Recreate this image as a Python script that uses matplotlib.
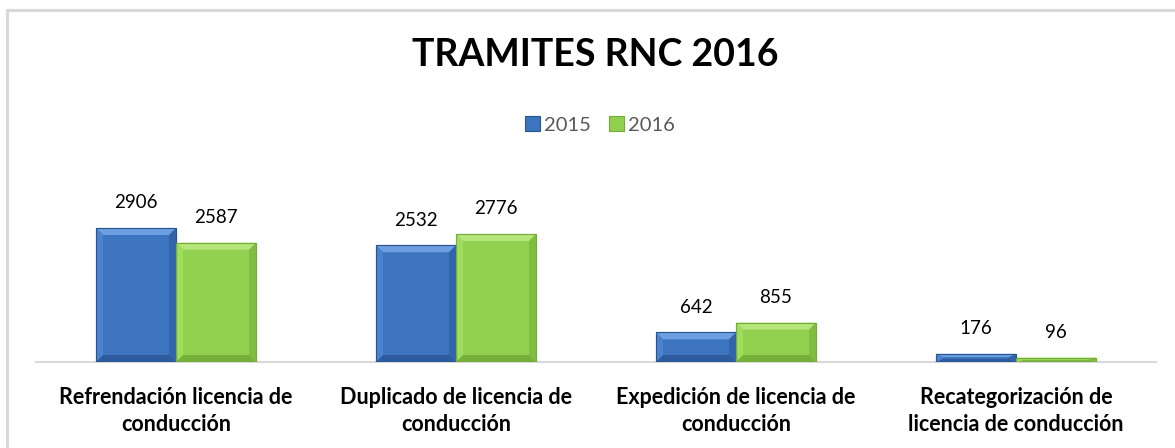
import matplotlib
matplotlib.use("Agg")
import matplotlib.pyplot as plt
import numpy as np
from matplotlib.patches import Rectangle, Polygon

categories = ["Refrendación licencia de\nconducción", "Duplicado de licencia de\nconducción",
              "Expedición de licencia de\nconducción", "Recategorización de\nlicencia de conducción"]
series_names = ["2015", "2016"]
values_2015 = [2906, 2532, 642, 176]
values_2016 = [2587, 2776, 855, 96]

plt.rcParams['font.family'] = ['Lato', 'DejaVu Sans']

W, H = 1175, 448
fig = plt.figure(figsize=(W / 100, H / 100), dpi=100)

# border frame
fig.patches.append(Rectangle((7 / W, -0.1), 1.2, (H - 10) / H + 0.1, transform=fig.transFigure,
                             fill=False, edgecolor="#d9d9d9", linewidth=2.2))

ax_left, ax_right = 36 / W, 1156 / W
base = 86 / H
ymax = 3200
px_per_unit = (362 - 228) / 2906
ax_h = ymax * px_per_unit / H
ax = fig.add_axes([ax_left, base, ax_right - ax_left, ax_h])

x = np.arange(len(categories))
bw = 80 / 280
styles = [
    dict(face="#3d74c0", edge="#2a5490", top="#6b9fe0", side="#4a82cf", bottom="#2c5a9c"),
    dict(face="#92d050", edge="#72ad35", top="#b6e57c", side="#a0dc5e", bottom="#76b03a"),
]

b1 = ax.bar(x - bw / 2, values_2015, bw, color=styles[0]["face"], edgecolor=styles[0]["edge"],
            linewidth=0.8, label=series_names[0], zorder=3)
b2 = ax.bar(x + bw / 2, values_2016, bw, color=styles[1]["face"], edgecolor=styles[1]["edge"],
            linewidth=0.8, label=series_names[1], zorder=3)

# bevel effect
bx = 7 / 280
by_full = 7 / px_per_unit
for bars, st in ((b1, styles[0]), (b2, styles[1])):
    for r in bars:
        x0, w, h = r.get_x(), r.get_width(), r.get_height()
        by = min(by_full, h * 0.4)
        x1 = x0 + w
        ax.add_patch(Polygon([(x0, h), (x1, h), (x1 - bx, h - by), (x0 + bx, h - by)],
                             closed=True, facecolor=st["top"], edgecolor="none", zorder=4))
        ax.add_patch(Polygon([(x0, 0), (x1, 0), (x1 - bx, by), (x0 + bx, by)],
                             closed=True, facecolor=st["bottom"], edgecolor="none", zorder=4))
        ax.add_patch(Polygon([(x0, 0), (x0 + bx, by), (x0 + bx, h - by), (x0, h)],
                             closed=True, facecolor=st["side"], edgecolor="none", zorder=4))
        ax.add_patch(Polygon([(x1, 0), (x1 - bx, by), (x1 - bx, h - by), (x1, h)],
                             closed=True, facecolor=st["bottom"], edgecolor="none", alpha=0.6, zorder=4))
        ax.add_patch(Rectangle((x0, 0), w, h, facecolor="none", edgecolor=st["edge"],
                               linewidth=0.8, zorder=5))

for bars in (b1, b2):
    for r in bars:
        ax.annotate(f"{int(r.get_height())}", (r.get_x() + r.get_width() / 2, r.get_height()),
                    xytext=(0, 12), textcoords="offset points", ha="center", va="bottom",
                    fontsize=13.5, color="#000000")

ax.set_xlim(-0.5, len(categories) - 0.5)
ax.set_ylim(0, ymax)
for s in ("top", "right", "left"):
    ax.spines[s].set_visible(False)
ax.spines["bottom"].set_color("#d9d9d9")
ax.spines["bottom"].set_linewidth(1.5)
ax.set_yticks([])
ax.set_xticks(x)
ax.set_xticklabels(categories, fontsize=15.5, fontweight="bold", linespacing=1.38)
ax.tick_params(axis="x", length=0, pad=18)
ax.patch.set_alpha(0)

fig.text(595 / W, 1 - 55 / H, "TRAMITES RNC 2016", ha="center", va="center",
         fontsize=27, fontweight="bold", color="#000000")

leg = fig.legend(handles=[b1, b2], labels=series_names, loc="center", bbox_to_anchor=(600 / W, 1 - 125 / H),
                 ncol=2, frameon=False, fontsize=14.5, handlelength=0.75, handleheight=0.75,
                 handletextpad=0.2, columnspacing=0.9)
for t in leg.get_texts():
    t.set_color("#595959")

fig.savefig("out.png", dpi=100)
